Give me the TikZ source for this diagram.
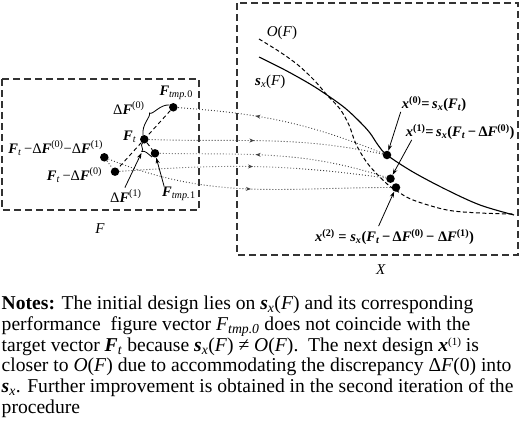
\documentclass[tikz,border=0pt]{standalone}
\usepackage{fontspec}
\setmainfont{Liberation Serif}
\usetikzlibrary{arrows.meta,decorations.markings}
\newcommand\bv[1]{\textbf{\textit{#1}}}
\newcommand\sbt[1]{\textsubscript{\textit{#1}}}
\newcommand\notefont{\fontsize{19.6}{20.7}\selectfont\setlength{\lineskiplimit}{-30pt}}
\newcommand\nsup[1]{\raisebox{5.5pt}{\fontsize{11}{11}\selectfont #1}}
\begin{document}
\begin{tikzpicture}[x=1pt,y=1pt,
 dot/.style={circle,fill=black,inner sep=0pt,minimum size=8.5pt},
 lab/.style={inner sep=0pt,font=\fontsize{14.5}{16}\selectfont},
 biglab/.style={inner sep=0pt,font=\fontsize{15}{17}\selectfont},
 frame/.style={draw=black!80,line width=1.2pt,dash pattern=on 7pt off 4pt},
 ddash/.style={line width=0.9pt,dash pattern=on 4pt off 3pt},
 curvedash/.style={line width=1pt,dash pattern=on 4pt off 2.5pt},
 dotline/.style={line width=0.9pt,dash pattern=on 0.9pt off 2.1pt,black!75},
 pointer/.style={line width=0.8pt,-{Stealth[length=6pt,width=4pt]}},
 midarrow/.style={postaction={decorate},decoration={markings,mark=at position #1 with {\arrow{Stealth[length=5pt,width=4pt]}}}},
 note/.style={anchor=north west,inner sep=0pt,align=left,font=\notefont}
]
\useasboundingbox (0,0) rectangle (520,-440);
% frames
\draw[frame] (2,-79) rectangle (199,-210);
\draw[frame] (237,-3) rectangle (518,-255);
\node[biglab] (Flab) at (100,-229) {\textit{F}};
\node[biglab] (Xlab) at (381,-270) {\textit{X}};
% curves
\draw[line width=1.1pt] plot[smooth,tension=0.55] coordinates {(259,-57) (285,-70) (310,-84) (327,-95) (345,-108) (360,-122) (370,-133) (378,-145) (387,-155) (413,-172) (447,-190) (480,-205) (514,-215)};
\draw[curvedash] plot[smooth,tension=0.55] coordinates {(259,-39) (280,-52) (298,-65) (314,-80) (327,-95) (340,-109) (349,-125) (356,-144) (368,-164) (386,-183) (397,-191) (413,-200) (447,-210) (480,-213) (514,-214)};
\node[biglab,anchor=west] (Olab) at (266.7,-33) {\textit{O}(\textit{F})};
\node[biglab,anchor=west] (sxlab) at (255,-82) {\bv{s}\sbt{x}(\textit{F})};
% dots
\node[dot] (Ftmp0) at (173.3,-107.3) {};
\node[dot] (Ft) at (144.3,-139.3) {};
\node[dot] (Ftmp1) at (155,-153.3) {};
\node[dot] (Fd01) at (104.3,-157.3) {};
\node[dot] (Fd0) at (115,-171.7) {};
\node[dot] (x0) at (387,-155) {};
\node[dot] (x1) at (390.5,-178.7) {};
\node[dot] (x2) at (396,-187.5) {};
% left labels
\node[lab,anchor=west] (Ftmp0lab) at (159.3,-92.7) {\bv{F}\sbt{tmp.}\textsubscript{0}};
\node[lab,anchor=west] (dF0lab) at (113,-108) {Δ\bv{F}\textsuperscript{(0)}};
\node[lab,anchor=west] (Ftlab) at (123,-137) {\bv{F}\sbt{t}};
\node[lab,anchor=west] (Fd01lab) at (8.3,-148) {\bv{F}\sbt{t}\,−Δ\bv{F}\textsuperscript{(0)}−Δ\bv{F}\textsuperscript{(1)}};
\node[lab,anchor=west] (Fd0lab) at (46.7,-175) {\bv{F}\sbt{t}\,−Δ\bv{F}\textsuperscript{(0)}};
\node[lab,anchor=west] (dF1lab) at (110,-196) {Δ\bv{F}\textsuperscript{(1)}};
\node[lab,anchor=west] (Ftmp1lab) at (162,-194) {\bv{F}\sbt{tmp.}\textsubscript{1}};
% right labels
\node[lab,anchor=west] (x0lab) at (401.7,-104) {\textbf{\textit{x}\textsuperscript{(0)}=\,\textit{s}\textsubscript{\textit{x}}(\textit{F}\textsubscript{\textit{t}})}};
\node[lab,anchor=west] (x1lab) at (405.7,-132) {\textbf{\textit{x}\textsuperscript{(1)}=\,\textit{s}\textsubscript{\textit{x}}(\textit{F}\textsubscript{\textit{t}}\,−\,Δ\textit{F}\textsuperscript{(0)})}};
\node[lab,anchor=west] (x2lab) at (315,-237) {\textbf{\textit{x}\textsuperscript{(2)}\ =\ \textit{s}\textsubscript{\textit{x}}(\textit{F}\textsubscript{\textit{t}}\,−\,Δ\textit{F}\textsuperscript{(0)}\,−\ Δ\textit{F}\textsuperscript{(1)})}};
% dashed segments in F
\draw[ddash] (Ftmp0) -- (Ft);
\draw[ddash] (Ft) -- (Fd0);
\draw[ddash] (Ft) -- (Ftmp1);
\draw[dotline] (Fd01) -- (Fd0);
% braces
\coordinate (b0tip) at (149.5,-113);
\coordinate (b1tip) at (141.8,-151.5);
\draw[line width=0.8pt] (143,-135.5) .. controls (141.5,-124) and (151,-117) .. (b0tip)
  .. controls (152.5,-115.5) and (160,-104) .. (169.5,-105);
\draw[line width=0.8pt] (142.5,-143) .. controls (139.5,-145.5) and (144.5,-149) .. (b1tip)
  .. controls (145,-150) and (148,-154) .. (152,-157);
% dotted mapping arrows
\draw[dotline,midarrow=0.63] (x0) to[out=158,in=-4] (Ftmp0);
\draw[dotline,midarrow=0.45] (Ft) to[out=-2,in=168] (x0);
\draw[dotline,midarrow=0.58] (x1) to[out=162,in=-1] (Ftmp1);
\draw[dotline,midarrow=0.5] (Fd0) to[out=4,in=172] (x1);
\draw[dotline,midarrow=0.51] (Fd01) to[out=-22,in=180] (x2);
% pointers
\draw[pointer] ([xshift=-1pt]x0lab.south west) -- (x0);
\draw[pointer] ([xshift=6pt]x1lab.south west) -- (x1);
\draw[pointer] ([xshift=-16pt,yshift=3pt]x2lab.north) -- (x2);
\draw[pointer] ([xshift=-1pt,yshift=2pt]dF1lab.north) -- ([xshift=-0.3pt,yshift=-1.3pt]b1tip);
\draw[pointer] ([xshift=2pt,yshift=1pt]Ftmp1lab.north west) -- (Ftmp1);
% notes
\node[note] (notes) at (1.5,-295.9) {\textbf{Notes:} The initial design lies on \bv{s}\textsubscript{\textit{x}}(\textit{F}) and its corresponding\\
performance\ \ figure vector \textit{F}\textsubscript{\textit{tmp.0}} does not coincide with the\\
target vector \bv{F}\textsubscript{\textit{t}} because \bv{s}\textsubscript{\textit{x}}(\textit{F}) ≠ \textit{O}(\textit{F}).\ \ The next design \bv{x}\nsup{(1)} is\\
closer to \textit{O}(\textit{F}) due to accommodating the discrepancy Δ\textit{F}(0) into\\
\bv{s}\textsubscript{\textit{x}}. Further improvement is obtained in the second iteration of the\\
procedure};
\end{tikzpicture}
\end{document}
